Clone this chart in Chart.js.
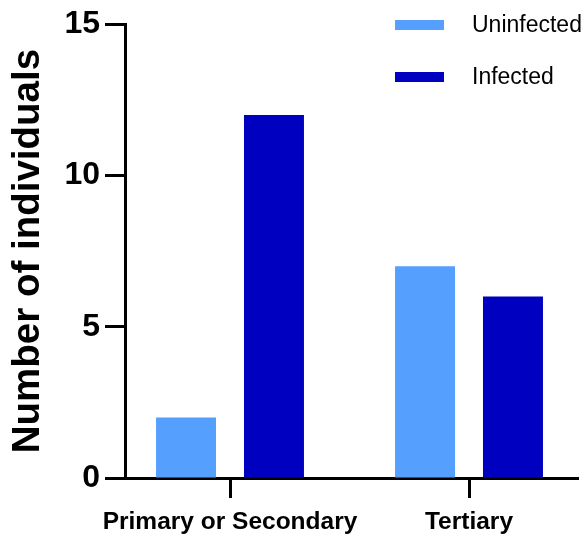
<!DOCTYPE html>
<html>
<head>
<meta charset="utf-8">
<script src="https://cdn.jsdelivr.net/npm/chart.js@4"></script>
<style>
  html, body { margin: 0; padding: 0; background: #fff; }
  #wrap { width: 587px; height: 536px; }
</style>
</head>
<body>
<div id="wrap"><canvas id="myChart"></canvas></div>
<script>
var categories = ['Primary or Secondary', 'Tertiary'];
var seriesNames = ['Uninfected', 'Infected'];
var uninfected = [2, 7];
var infected = [12, 6];
var yTicks = [0, 5, 10, 15];

var colors = ['#559FFF', '#0000C0'];
var fontFamily = '"Liberation Sans", Arial, sans-serif';

// legend in the top right corner, inside the plot
var cornerLegend = {
    id: 'cornerLegend',
    afterDraw: function (chart) {
        var ctx = chart.ctx;
        ctx.save();
        ctx.font = '23px ' + fontFamily;
        ctx.textBaseline = 'middle';
        ctx.textAlign = 'left';
        chart.data.datasets.forEach(function (ds, i) {
            var y = 20 + i * 52;
            ctx.fillStyle = ds.backgroundColor;
            ctx.fillRect(395, y, 49, 10);
            ctx.fillStyle = '#000';
            ctx.fillText(ds.label, 472, y + 6);
        });
        ctx.restore();
    }
};

// Prism puts the group centres a bit further apart than Chart.js does
var spreadGroups = {
    id: 'spreadGroups',
    afterLayout: function (chart) {
        var x = chart.scales.x;
        var area = chart.chartArea;
        var extra = 25;
        x._startPixel = area.left - 14.5;
        x._length = (area.right - area.left) + extra;
    }
};

var ctx = document.getElementById('myChart').getContext('2d');
var myChart = new Chart(ctx, {
    type: 'bar',
    data: {
        labels: categories,
        datasets: [
            {
                label: seriesNames[0],
                data: uninfected,
                backgroundColor: colors[0]
            },
            {
                label: seriesNames[1],
                data: infected,
                backgroundColor: colors[1]
            }
        ]
    },
    options: {
        responsive: true,
        maintainAspectRatio: false,
        animation: false,
        categoryPercentage: 0.736,
        barPercentage: 0.682,
        layout: {
            padding: { top: 22, right: 9, bottom: 0, left: 0 }
        },
        plugins: {
            legend: { display: false },
            tooltip: { enabled: false }
        },
        scales: {
            x: {
                grid: {
                    offset: false,
                    drawOnChartArea: false,
                    tickLength: 20,
                    tickWidth: 3,
                    tickColor: '#000'
                },
                border: { display: true, color: '#000', width: 3 },
                ticks: {
                    color: '#000',
                    padding: 10,
                    autoSkip: false,
                    maxRotation: 0,
                    font: { family: fontFamily, size: 24.5, weight: 'bold' }
                },
                afterFit: function (scale) { scale.height = 58; }
            },
            y: {
                min: 0,
                max: 15,
                afterBuildTicks: function (scale) {
                    scale.ticks = yTicks.map(function (v) { return { value: v }; });
                },
                grid: {
                    drawOnChartArea: false,
                    tickLength: 20,
                    tickWidth: 3,
                    tickColor: '#000'
                },
                border: { display: true, color: '#000', width: 3 },
                ticks: {
                    color: '#000',
                    padding: 5,
                    font: { family: fontFamily, size: 32, weight: 'bold' }
                },
                title: {
                    display: true,
                    text: 'Number of individuals',
                    color: '#000',
                    padding: { top: 5, bottom: 0 },
                    font: { family: fontFamily, size: 38.5, weight: 'bold' }
                },
                afterFit: function (scale) { scale.width = 125; }
            }
        }
    },
    plugins: [cornerLegend, spreadGroups]
});
</script>
</body>
</html>
